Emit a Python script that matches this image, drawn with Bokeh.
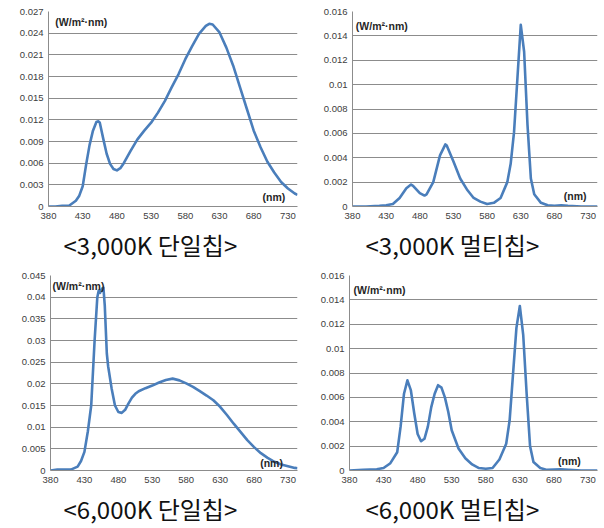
from bokeh.plotting import figure
from bokeh.models import FixedTicker, Label, Range1d, Title
from bokeh.layouts import column, row
from bokeh.embed import file_html
from bokeh.resources import INLINE

# ---------------- data ----------------
x_ticks = [380, 430, 480, 530, 580, 630, 680, 730]
x_start, x_end = 380, 744

# <3,000K 단일칩>
wl_a = [380, 390, 400, 410, 420, 425, 430, 435, 440, 445, 450, 453, 455, 460, 465, 470,
        475, 480, 485, 490, 500, 510, 520, 530, 540, 550, 560, 570, 580, 590, 600,
        610, 615, 620, 630, 640, 650, 660, 670, 680, 690, 700, 710, 720, 730, 740, 744]
val_a = [0.0, 0.0, 0.0001, 0.0001, 0.0008, 0.0015, 0.0028, 0.0058, 0.0085, 0.0105, 0.0117, 0.0118,
         0.0116, 0.0094, 0.0073, 0.0059, 0.0052, 0.0050, 0.0053, 0.0060, 0.0077, 0.0093, 0.0105,
         0.0116, 0.0130, 0.0146, 0.0165, 0.0183, 0.0204, 0.0222, 0.0239, 0.0250, 0.0253, 0.0252,
         0.0241, 0.0220, 0.0195, 0.0165, 0.0135, 0.0105, 0.0082, 0.0062, 0.0047, 0.0034, 0.0025,
         0.0018, 0.0016]
yt_a = [0, 0.003, 0.006, 0.009, 0.012, 0.015, 0.018, 0.021, 0.024, 0.027]
yl_a = ["0", "0.003", "0.006", "0.009", "0.012", "0.015", "0.018", "0.021", "0.024", "0.027"]

# <3,000K 멀티칩>
wl_b = [380, 400, 420, 430, 440, 450, 460, 467, 470, 480, 487, 490, 500, 510, 518, 520, 530,
        540, 550, 560, 570, 580, 590, 600, 610, 615, 620, 625, 630, 635, 640, 645, 650, 660,
        670, 680, 690, 700, 720, 744]
val_b = [0.0, 0.0, 0.00005, 0.0001, 0.0002, 0.0007, 0.0015, 0.0018, 0.0017, 0.0011, 0.0009,
         0.0010, 0.0020, 0.0042, 0.0051, 0.0050, 0.0037, 0.0023, 0.0014, 0.0007, 0.0004, 0.0002,
         0.0003, 0.0007, 0.0020, 0.0035, 0.0061, 0.0105, 0.0149, 0.0127, 0.0067, 0.0023, 0.0010,
         0.0003, 0.0001, 0.00005, 0.0001, 0.00005, 0.0, 0.0]
yt_b = [0, 0.002, 0.004, 0.006, 0.008, 0.01, 0.012, 0.014, 0.016]
yl_b = ["0", "0.002", "0.004", "0.006", "0.008", "0.01", "0.012", "0.014", "0.016"]

# <6,000K 단일칩>
wl_c = [380, 390, 400, 410, 420, 425, 430, 435, 440, 445, 449, 451, 453, 456, 458, 460, 463,
        465, 470, 475, 480, 485, 490, 495, 500, 505, 510, 520, 530, 540, 550, 560, 570, 580,
        590, 600, 610, 620, 630, 640, 650, 660, 670, 680, 690, 700, 710, 720, 730, 740, 744]
val_c = [0.0, 0.0002, 0.0002, 0.0002, 0.0009, 0.0022, 0.0043, 0.0090, 0.0150, 0.0300, 0.0400,
         0.0415, 0.0410, 0.0420, 0.0422, 0.0380, 0.0270, 0.0240, 0.0190, 0.0150, 0.0135, 0.0133,
         0.0140, 0.0155, 0.0168, 0.0177, 0.0183, 0.0190, 0.0196, 0.0203, 0.0209, 0.0212, 0.0208,
         0.0201, 0.0193, 0.0183, 0.0173, 0.0162, 0.0147, 0.0128, 0.0108, 0.0089, 0.0070, 0.0054,
         0.0040, 0.0029, 0.0020, 0.0014, 0.0010, 0.0006, 0.0005]
yt_c = [0, 0.005, 0.01, 0.015, 0.02, 0.025, 0.03, 0.035, 0.04, 0.045]
yl_c = ["0", "0.005", "0.01", "0.015", "0.02", "0.025", "0.03", "0.035", "0.04", "0.045"]

# <6,000K 멀티칩>
wl_d = [380, 400, 420, 430, 440, 450, 455, 460, 465, 470, 475, 480, 485, 490, 495, 500, 505,
        510, 515, 520, 525, 530, 540, 550, 560, 570, 580, 590, 600, 610, 615, 620, 625, 630,
        635, 640, 645, 650, 660, 670, 690, 720, 744]
val_d = [0.0, 0.00005, 0.0001, 0.0002, 0.0006, 0.0015, 0.0036, 0.0063, 0.0074, 0.0066, 0.0047,
         0.0030, 0.0024, 0.0026, 0.0036, 0.0052, 0.0063, 0.0070, 0.0068, 0.0060, 0.0048, 0.0033,
         0.0018, 0.0010, 0.0005, 0.0002, 0.00015, 0.0002, 0.0009, 0.0022, 0.0041, 0.0079, 0.0117,
         0.0135, 0.0111, 0.0063, 0.0020, 0.0007, 0.0002, 0.00005, 0.0001, 0.0, 0.0]
yt_d = yt_b
yl_d = yl_b

captions = ["<3,000K 단일칩>", "<3,000K 멀티칩>", "<6,000K 단일칩>", "<6,000K 멀티칩>"]
unit_label = "(W/m²·nm)"
nm_label = "(nm)"

LINE = "#4a7ebb"
GRID = "#8c8c8c"
TICKFONT = "Liberation Sans"


def panel(wl, vals, yticks, ylabels, caption, unit_xy, nm_xy, width, height,
          bl, br, bt, bb, cap_offset, cap_standoff):
    p = figure(width=width, height=height, output_backend="svg", toolbar_location=None,
               title=None, x_range=Range1d(x_start, x_end),
               y_range=Range1d(yticks[0], yticks[-1]),
               min_border_left=bl, min_border_right=br, min_border_top=bt,
               min_border_bottom=bb)
    p.outline_line_color = None
    p.background_fill_color = "white"
    p.border_fill_color = "white"
    p.xgrid.visible = False
    p.ygrid.grid_line_color = GRID
    p.ygrid.grid_line_width = 1
    p.ygrid.ticker = FixedTicker(ticks=yticks)
    p.xaxis.ticker = FixedTicker(ticks=x_ticks)
    p.yaxis.ticker = FixedTicker(ticks=yticks)
    p.yaxis.major_label_overrides = {t: l for t, l in zip(yticks, ylabels)}
    for ax in (p.xaxis[0], p.yaxis[0]):
        ax.axis_line_color = GRID
        ax.axis_line_width = 1
        ax.major_tick_in = 0
        ax.major_tick_out = 0
        ax.minor_tick_in = 0
        ax.minor_tick_out = 0
        ax.major_label_text_font = TICKFONT
        ax.major_label_text_font_size = "9.5px"
        ax.major_label_text_color = "#404040"
    p.xaxis.major_label_standoff = 6
    p.yaxis.major_label_standoff = 5

    p.line(wl, vals, line_color=LINE, line_width=2.6, line_join="round")

    p.add_layout(Label(x=unit_xy[0], y=unit_xy[1], text=unit_label, text_font=TICKFONT,
                       text_font_size="10.5px", text_font_style="bold", text_color="#262626",
                       text_baseline="middle", text_align="left"))
    p.add_layout(Label(x=nm_xy[0], y=nm_xy[1], text=nm_label, text_font=TICKFONT,
                       text_font_size="10.5px", text_font_style="bold", text_color="#262626",
                       text_baseline="middle", text_align="left"))
    p.add_layout(Title(text=caption, align="left", offset=cap_offset, standoff=cap_standoff,
                       text_font="Noto Sans CJK KR", text_font_size="24px",
                       text_font_style="normal", text_color="#111111"), "below")
    return p


p1 = panel(wl_a, val_a, yt_a, yl_a, captions[0], (390, 0.0255), (693, 0.00125),
           302, 264, 48, 5, 11, 40, 15, 6)
p2 = panel(wl_b, val_b, yt_b, yl_b, captions[1], (385, 0.0148), (694, 0.0009),
           302, 264, 50, 7, 11, 40, 13, 6)
p3 = panel(wl_c, val_c, yt_c, yl_c, captions[2], (383, 0.0425), (689, 0.0018),
           302, 264, 50, 5, 11, 40, 13, 6)
p4 = panel(wl_d, val_d, yt_d, yl_d, captions[3], (386, 0.0148), (686, 0.0008),
           302, 264, 47, 7, 11, 40, 16, 6)

layout = column(row(p1, p2), row(p3, p4))
open("out.html", "w").write(file_html(layout, INLINE))
